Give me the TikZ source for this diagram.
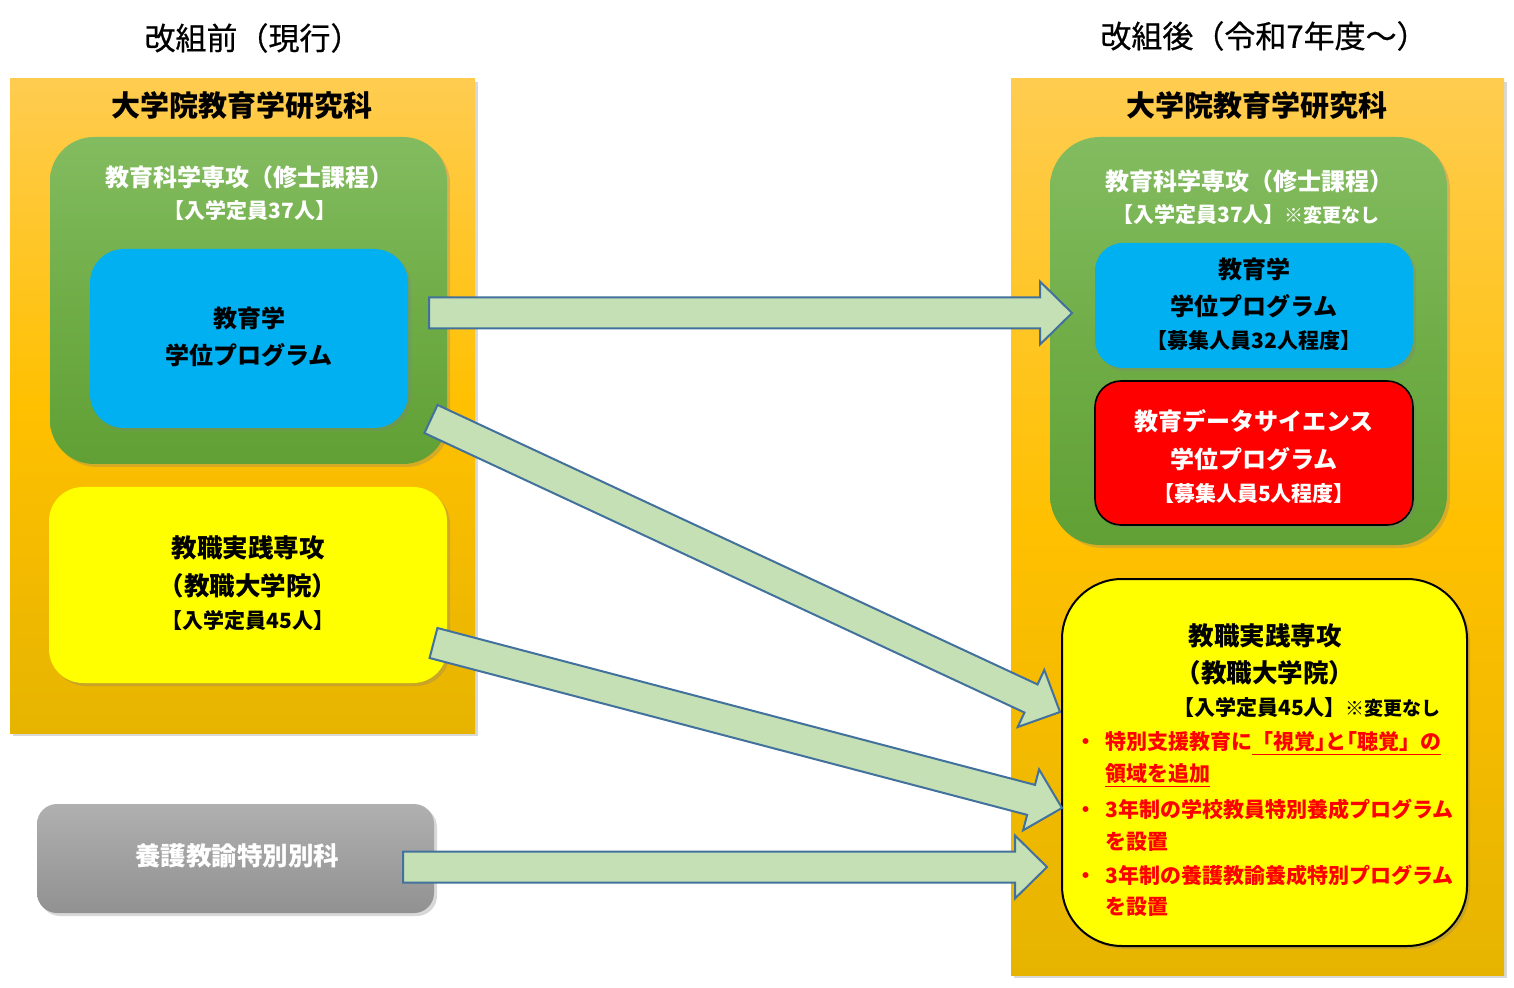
\documentclass[tikz,border=0pt]{standalone}
\usepackage{fontspec}
\setmainfont{Noto Sans CJK JP}
\newfontfamily\titlefont{Noto Sans CJK JP}[FakeBold=0.6]
\usepackage{tikz}
\usetikzlibrary{calc,shadows}
\definecolor{orangetop}{RGB}{255,204,80}
\definecolor{orangemid}{RGB}{255,192,0}
\definecolor{orangebot}{RGB}{230,180,0}
\definecolor{greentop}{RGB}{131,188,96}
\definecolor{greenmid}{RGB}{112,173,71}
\definecolor{greenbot}{RGB}{96,160,52}
\definecolor{progblue}{RGB}{0,176,240}
\definecolor{pracyellow}{RGB}{255,255,0}
\definecolor{graytop}{RGB}{176,176,176}
\definecolor{graybot}{RGB}{145,145,145}
\definecolor{arrowfill}{RGB}{197,224,180}
\definecolor{arrowline}{RGB}{65,113,156}
\def\blockarrow(#1)(#2){%
  \coordinate (#2-base) at ($(#2)!16pt!(#1)$);
  \draw[flowarrow] ($(#1)!7.75pt!90:(#2)$) -- ($(#2-base)!7.75pt!-90:(#1)$) -- ($(#2-base)!15.75pt!-90:(#1)$) -- (#2)
    -- ($(#2-base)!15.75pt!90:(#1)$) -- ($(#2-base)!7.75pt!90:(#1)$) -- ($(#1)!7.75pt!-90:(#2)$) -- cycle;}
\def\dotmark{\makebox[19pt][c]{・}}

\begin{document}
\begin{tikzpicture}[x=0.5pt, y=-0.5pt,
    panel/.style={rectangle, inner sep=0pt, drop shadow={shadow xshift=1.5pt, shadow yshift=-1.5pt, opacity=0.3}},
    orangebox/.style={panel, top color=orangetop, bottom color=orangebot, middle color=orangemid},
    greenbox/.style={panel, top color=greentop, bottom color=greenbot, middle color=greenmid},
    bluebox/.style={panel, fill=progblue, rounded corners=14pt},
    redbox/.style={panel, fill=red, draw=black, line width=0.8pt, rounded corners=13pt},
    yellowbox/.style={panel, fill=pracyellow},
    graybox/.style={panel, rounded corners=10pt, top color=graytop, bottom color=graybot},
    flowarrow/.style={draw=arrowline, fill=arrowfill, line width=1pt, line join=miter},
    titletext/.style={font=\titlefont\fontsize{15.5}{18}\selectfont},
    facultytext/.style={font=\fontsize{14.5}{17}\selectfont\bfseries},
    headtext/.style={font=\fontsize{12}{14}\selectfont\bfseries},
    progtext/.style={font=\fontsize{12}{14}\selectfont\bfseries},
    majortext/.style={font=\fontsize{12.75}{15}\selectfont\bfseries},
    captext/.style={font=\fontsize{10.5}{12}\selectfont\bfseries},
    bullettext/.style={font=\fontsize{10.5}{13}\selectfont\bfseries, text=red, anchor=west, inner sep=0pt}]
  \fill[white] (0,0) rectangle (1514,988);
  \useasboundingbox (0,0) rectangle (1514,988);

  %%%%% before %%%%%
  \node[titletext] (titlebefore) at (253,38) {改組前（現行）};
  \node[orangebox, minimum width=232.5pt, minimum height=327pt] (facbefore) at (242.5,406) {};
  \node[facultytext] (facbeforetext) at (242,106) {大学院教育学研究科};

  \node[greenbox, rounded corners=22pt, minimum width=198.5pt, minimum height=163.5pt] (scibefore) at (248.5,300.5) {};
  \node[headtext, text=white] (scibeforetext) at (249,177) {教育科学専攻（修士課程）};
  \node[captext, text=white] (scibeforecap) at (250,211) {【入学定員37人】};

  \node[bluebox, rounded corners=17pt, minimum width=159pt, minimum height=89.5pt] (edubefore) at (249,338.5) {};
  \node[progtext] (edubeforetext) at (249,318) {教育学};
  \node[progtext] (edubeforeprog) at (249,355) {学位プログラム};

  \node[yellowbox, rounded corners=17pt, minimum width=199pt, minimum height=98pt] (pracbefore) at (248,585) {};
  \node[majortext] (pracbeforetext) at (248,548) {教職実践専攻};
  \node[majortext] (pracbeforesub) at (248,586) {（教職大学院）};
  \node[captext] (pracbeforecap) at (248,621) {【入学定員45人】};

  \node[graybox, minimum width=198.5pt, minimum height=54.5pt] (nurse) at (235.5,858.5) {};
  \node[majortext, text=white] (nursetext) at (237,856) {養護教諭特別別科};

  %%%%% after %%%%%
  \node[titletext] (titleafter) at (1264,36) {改組後（令和7年度～）};
  \node[orangebox, minimum width=246.5pt, minimum height=448pt] (facafter) at (1257.5,527) {};
  \node[facultytext] (facaftertext) at (1257,106) {大学院教育学研究科};

  \node[greenbox, rounded corners=25pt, minimum width=198.5pt, minimum height=204pt] (sciafter) at (1248.5,341) {};
  \node[headtext, text=white] (sciaftertext) at (1249,181) {教育科学専攻（修士課程）};
  \node[captext, text=white] (sciaftercap) at (1246,215) {【入学定員37人】{\fontsize{9.5}{11}\selectfont ※変更なし}};

  \node[bluebox, minimum width=159pt, minimum height=62.5pt] (eduafter) at (1254,305.5) {};
  \node[progtext] (eduaftertext) at (1254,269) {教育学};
  \node[progtext] (eduafterprog) at (1254,306) {学位プログラム};
  \node[captext] (eduaftercap) at (1254,341) {【募集人員32人程度】};

  \node[redbox, minimum width=159pt, minimum height=72pt] (dsafter) at (1254,453) {};
  \node[headtext, text=white] (dsaftertext) at (1254,421) {教育データサイエンス};
  \node[progtext, text=white] (dsafterprog) at (1254,459) {学位プログラム};
  \node[captext, text=white] (dsaftercap) at (1254,494) {【募集人員5人程度】};

  \node[yellowbox, draw=black, line width=1pt, rounded corners=30pt, minimum width=202.5pt, minimum height=183.5pt] (pracafter) at (1264.5,762.5) {};
  \node[majortext] (pracaftertext) at (1265,636) {教職実践専攻};
  \node[majortext] (pracaftersub) at (1265,673) {（教職大学院）};
  \node[captext] (pracaftercap) at (1307,708) {【入学定員45人】{\fontsize{9.5}{11}\selectfont ※変更なし}};
  \node[bullettext] (visual) at (1067,744) {\dotmark 特別支援教育に\underline{「視覚{\addfontfeature{RawFeature=+halt}」と「}聴覚」の}};
  \node[bullettext] (visualb) at (1105,776) {\underline{領域を追加}};
  \node[bullettext] (teacher) at (1067,809) {\dotmark 3年制の学校教員特別養成プログラム};
  \node[bullettext] (teacherb) at (1105,842) {を設置};
  \node[bullettext] (nursing) at (1067,875) {\dotmark 3年制の養護教諭養成特別プログラム};
  \node[bullettext] (nursingb) at (1105,907) {を設置};

  %%%%% arrows %%%%%
  \coordinate (fromedu) at (429,313);
  \coordinate (toedu) at (1072,313);
  \coordinate (fromedu2) at (431,419);
  \coordinate (toprac) at (1060,712);
  \coordinate (fromprac) at (433.5,643);
  \coordinate (toprac2) at (1062,808);
  \coordinate (fromnurse) at (403,867);
  \coordinate (toprac3) at (1047,867);
  \blockarrow(fromedu)(toedu)
  \blockarrow(fromedu2)(toprac)
  \blockarrow(fromprac)(toprac2)
  \blockarrow(fromnurse)(toprac3)
\end{tikzpicture}
\end{document}
